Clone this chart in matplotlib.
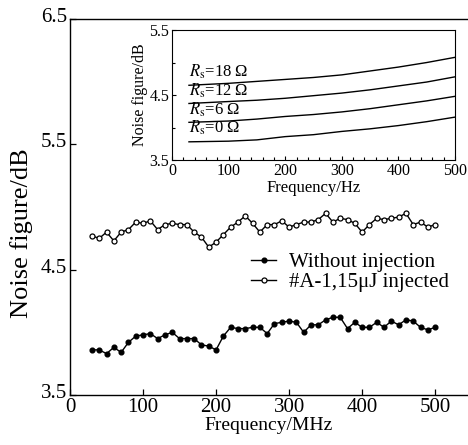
import numpy as np
import matplotlib.pyplot as plt
from matplotlib.transforms import ScaledTranslation

plt.rcParams['font.family'] = ['Liberation Serif', 'DejaVu Serif']
plt.rcParams['mathtext.fontset'] = 'stix'

# main chart: noise figure vs frequency
freq = np.arange(30, 510, 10)
nf_without = [3.86, 3.86, 3.83, 3.88, 3.84, 3.92, 3.97, 3.98, 3.99, 3.95,
              3.98, 4.00, 3.95, 3.95, 3.95, 3.90, 3.89, 3.86, 3.97, 4.04,
              4.03, 4.03, 4.04, 4.04, 3.99, 4.07, 4.08, 4.09, 4.08, 4.00,
              4.06, 4.06, 4.10, 4.12, 4.12, 4.03, 4.08, 4.04, 4.04, 4.08,
              4.04, 4.09, 4.06, 4.10, 4.09, 4.04, 4.02, 4.04]
nf_injected = [4.77, 4.75, 4.80, 4.73, 4.80, 4.82, 4.88, 4.87, 4.89, 4.82,
               4.86, 4.87, 4.86, 4.86, 4.80, 4.76, 4.68, 4.72, 4.78, 4.84,
               4.88, 4.93, 4.87, 4.80, 4.86, 4.86, 4.89, 4.84, 4.86, 4.88,
               4.88, 4.90, 4.95, 4.88, 4.91, 4.90, 4.87, 4.80, 4.86, 4.91,
               4.90, 4.91, 4.92, 4.95, 4.86, 4.88, 4.84, 4.86]
series_labels = ['Without injection', '#A-1,15\u03bcJ injected']

# inset: simulated curves for different source resistances
inset_freq = [30, 100, 150, 200, 250, 300, 350, 400, 450, 500]
rs_0 = [3.78, 3.79, 3.81, 3.86, 3.89, 3.94, 3.98, 4.03, 4.09, 4.16]
rs_6 = [4.08, 4.10, 4.13, 4.17, 4.20, 4.24, 4.29, 4.35, 4.41, 4.48]
rs_12 = [4.37, 4.40, 4.42, 4.45, 4.49, 4.53, 4.58, 4.64, 4.70, 4.78]
rs_18 = [4.65, 4.68, 4.71, 4.74, 4.77, 4.81, 4.87, 4.93, 5.00, 5.08]
rs_labels = ['$R_\\mathrm{s}$=0 \u03a9', '$R_\\mathrm{s}$=6 \u03a9',
             '$R_\\mathrm{s}$=12 \u03a9', '$R_\\mathrm{s}$=18 \u03a9']

fig = plt.figure(figsize=(4.68, 4.45), dpi=100)
ax = fig.add_axes([0.1496, 0.1124, 0.8504, 0.8446])

ax.plot(freq, nf_without, '-', color='black', lw=1.0, marker='o', ms=3.4,
        mfc='black', mec='black', label=series_labels[0])
ax.plot(freq, nf_injected, '-', color='black', lw=1.0, marker='o', ms=3.6,
        mfc='white', mec='black', mew=0.9, label=series_labels[1])

ax.set_xlim(0, 545)
ax.set_ylim(3.5, 6.5)
ax.set_xticks([0, 100, 200, 300, 400, 500])
ax.set_yticks([3.5, 4.5, 5.5, 6.5])
ax.tick_params(direction='in', labelsize=15, length=4, width=0.9, pad=2)
ax.spines['right'].set_visible(False)
for s in ['left', 'bottom', 'top']:
    ax.spines[s].set_linewidth(1.0)
ax.set_xlabel('Frequency/MHz', fontsize=14, labelpad=0)
ax.set_ylabel('Noise figure/dB', fontsize=19)
ax.yaxis.set_label_coords(-0.092, 0.43)

# y tick labels sit a little above their ticks in the original
shift = ScaledTranslation(0, 3 / 72, fig.dpi_scale_trans)
for t in ax.get_yticklabels():
    t.set_transform(t.get_transform() + shift)

ax.legend(loc='center left', bbox_to_anchor=(0.455, 0.326), frameon=False,
          fontsize=15, handlelength=1.2, handletextpad=0.6,
          labelspacing=0.0, borderaxespad=0, borderpad=0)

# inset
ins = fig.add_axes([0.3675, 0.6404, 0.6047, 0.2921])
for vals in [rs_0, rs_6, rs_12, rs_18]:
    ins.plot(inset_freq, vals, color='black', lw=1.0)
label_y = [4.0, 4.28, 4.57, 4.86]
for lbl, yy in zip(rs_labels, label_y):
    ins.text(30, yy, lbl, fontsize=12, va='center', ha='left')

ins.set_xlim(0, 500)
ins.set_ylim(3.5, 5.5)
ins.set_xticks([0, 100, 200, 300, 400, 500])
ins.set_xticks(np.arange(0, 501, 20), minor=True)
ins.set_yticks([3.5, 4.5, 5.5])
ins.set_yticks([4.0, 5.0], minor=True)
ins.tick_params(direction='in', labelsize=11.5, length=3, width=0.8, pad=2)
ins.tick_params(which='minor', direction='in', length=2, width=0.8)
ins.set_xlabel('Frequency/Hz', fontsize=12, labelpad=1)
ins.set_ylabel('Noise figure/dB', fontsize=11.5, labelpad=1)

fig.savefig('out.png', dpi=100)
